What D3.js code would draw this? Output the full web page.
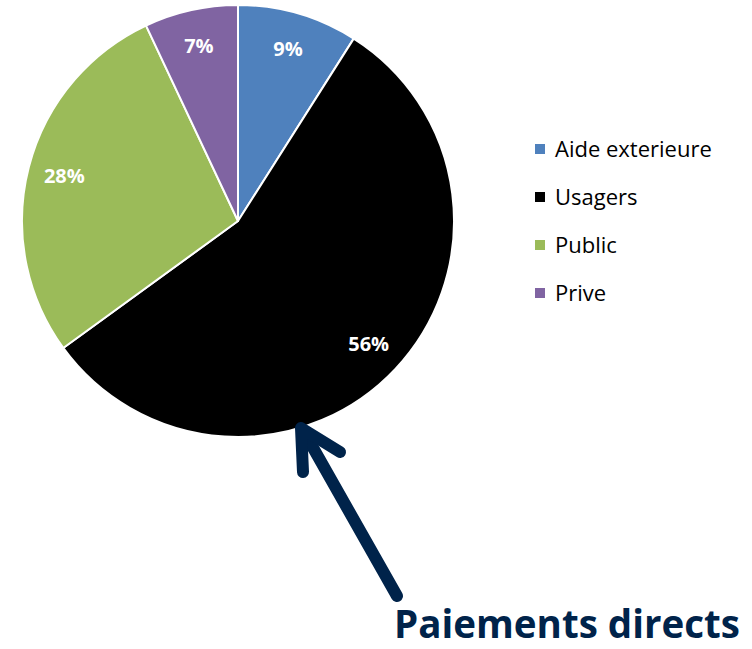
<!DOCTYPE html>
<html>
<head>
<meta charset="utf-8">
<script src="https://cdn.jsdelivr.net/npm/d3@7"></script>
<style>
  body { margin: 0; background: #fff; }
  svg { display: block; }
</style>
</head>
<body>
<div id="chart"></div>
<script>
// data
const categories = ['Aide exterieure', 'Usagers', 'Public', 'Prive'];
const shares = [9, 56, 28, 7];
const colors = ['#4F81BD', '#000000', '#9BBB59', '#8064A2'];
const calloutText = 'Paiements directs';

const width = 752;
const height = 649;
const cx = 238;
const cy = 221;
const radius = 216;
const navy = '#00234a';

const svg = d3.select('#chart').append('svg')
  .attr('width', width)
  .attr('height', height);

const pie = d3.pie().sort(null).value(d => d.value);
const arcs = pie(categories.map((c, i) => ({ name: c, value: shares[i], color: colors[i] })));

const arc = d3.arc().innerRadius(0).outerRadius(radius);
const labelArc = d3.arc().innerRadius(radius * 0.83).outerRadius(radius * 0.83);

const g = svg.append('g').attr('transform', `translate(${cx},${cy})`);

g.selectAll('path.slice')
  .data(arcs)
  .enter().append('path')
  .attr('class', 'slice')
  .attr('d', arc)
  .attr('fill', d => d.data.color)
  .attr('stroke', '#fff')
  .attr('stroke-width', 2)
  .attr('stroke-linejoin', 'round');

g.selectAll('text.pct')
  .data(arcs)
  .enter().append('text')
  .attr('class', 'pct')
  .attr('transform', d => `translate(${labelArc.centroid(d)})`)
  .attr('text-anchor', 'middle')
  .attr('dy', '0.35em')
  .attr('fill', '#fff')
  .attr('font-family', 'Open Sans, sans-serif')
  .attr('font-weight', 'bold')
  .attr('font-size', 20)
  .text(d => d.data.value + '%');

// legend
const legend = svg.append('g').attr('transform', 'translate(535,149)');
const rows = legend.selectAll('g')
  .data(categories)
  .enter().append('g')
  .attr('transform', (d, i) => `translate(0,${i * 48})`);

rows.append('rect')
  .attr('x', 0).attr('y', -5)
  .attr('width', 10).attr('height', 10)
  .attr('fill', (d, i) => colors[i]);

rows.append('text')
  .attr('x', 20)
  .attr('dy', '0.35em')
  .attr('fill', '#000')
  .attr('font-family', 'Open Sans, sans-serif')
  .attr('font-size', 22)
  .text(d => d);

// callout arrow
const arrow = svg.append('g')
  .attr('fill', 'none')
  .attr('stroke', navy)
  .attr('stroke-width', 12)
  .attr('stroke-linecap', 'round')
  .attr('stroke-linejoin', 'round');

arrow.append('path').attr('d', d3.line()([[397, 596], [303, 430]]));
arrow.append('path').attr('d', d3.line()([[303, 472], [301, 428], [340, 452]]));

// callout text, fitted to the reference width
const label = svg.append('text')
  .attr('x', 394)
  .attr('y', 638)
  .attr('fill', navy)
  .attr('font-family', 'Open Sans, sans-serif')
  .attr('font-weight', 'bold')
  .attr('font-size', 36)
  .text(calloutText);
const w = label.node().getComputedTextLength();
label.attr('font-size', 36 * 346 / w);
</script>
</body>
</html>
